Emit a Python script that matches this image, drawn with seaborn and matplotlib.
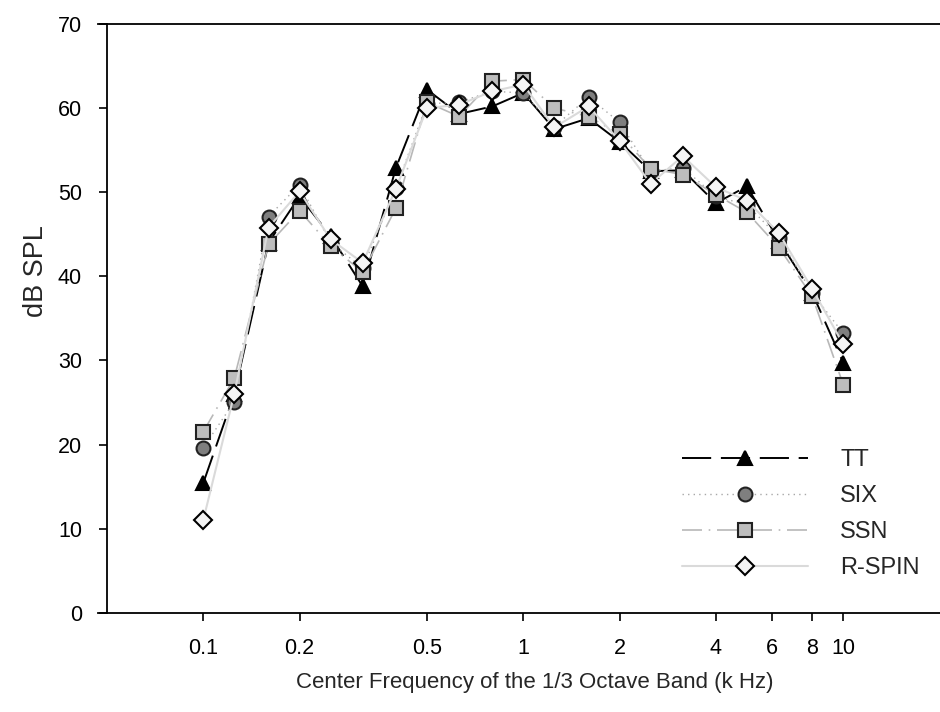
import numpy as np
import pandas as pd
import matplotlib
matplotlib.use("Agg")
import matplotlib.pyplot as plt
import matplotlib.ticker as mticker
import seaborn as sns

# 1/3 octave band centre frequencies (kHz)
freq = [0.1, 0.125, 0.16, 0.2, 0.25, 0.315, 0.4, 0.5, 0.63, 0.8, 1,
        1.25, 1.6, 2, 2.5, 3.15, 4, 5, 6.3, 8, 10]

# levels (dB SPL)
tt = [15.4, 26.0, 44.0, 49.5, 44.8, 38.8, 52.9, 62.2, 59.3, 60.2, 61.8,
      57.5, 58.8, 56.0, 52.5, 52.6, 48.7, 50.7, 44.2, 38.0, 29.7]
six = [19.6, 25.1, 47.1, 50.9, 44.0, 41.0, 50.5, 60.5, 60.7, 62.0, 61.8,
       57.8, 61.3, 58.3, 52.5, 52.9, 49.5, 48.5, 44.6, 38.0, 33.2]
ssn = [21.5, 27.9, 43.8, 47.8, 43.6, 40.5, 48.1, 60.7, 59.0, 63.2, 63.4,
       60.0, 59.0, 56.9, 52.8, 52.1, 49.7, 47.6, 43.4, 37.6, 27.1]
rspin = [11.0, 26.0, 45.8, 50.1, 44.4, 41.6, 50.4, 60.0, 60.4, 62.0, 62.8,
         57.7, 60.2, 56.1, 51.0, 54.3, 50.6, 49.0, 45.1, 38.5, 31.9]

xticks = [0.1, 0.2, 0.5, 1, 2, 4, 6, 8, 10]
xticklabels = ["0.1", "0.2", "0.5", "1", "2", "4", "6", "8", "10"]

sns.set_style("white")
plt.rcParams['font.family'] = ['Liberation Sans', 'DejaVu Sans']

fig = plt.figure(figsize=(9.4, 7.12), dpi=100)
ax = fig.add_axes([98 / 940, 1 - 612.7 / 712, 842 / 940, (612.7 - 24) / 712])

df = pd.DataFrame({"freq": freq, "TT": tt, "SIX": six, "SSN": ssn, "R-SPIN": rspin})

styles = {
    "TT": dict(color="black", linestyle=(0, (15, 5)), linewidth=1.4,
               marker="^", markersize=10, markerfacecolor="black", markeredgecolor="black"),
    "SIX": dict(color="#a8a8a8", linestyle=(0, (1, 3)), linewidth=1.0,
                marker="o", markersize=10, markerfacecolor="#7f7f7f", markeredgecolor="#222222"),
    "SSN": dict(color="#b8b8b8", linestyle=(0, (12, 4, 1, 4)), linewidth=1.2,
                marker="s", markersize=10, markerfacecolor="#bdbdbd", markeredgecolor="#222222"),
    "R-SPIN": dict(color="#dadada", linestyle="-", linewidth=1.5,
                   marker="D", markersize=9, markerfacecolor="#f4f4f4", markeredgecolor="black"),
}

for name, st in styles.items():
    sns.lineplot(data=df, x="freq", y=name, ax=ax, label=name, errorbar=None,
                 markeredgewidth=1.5, **st)

ax.set_xscale("log")
ax.set_xlim(0.0469, 20.05)
ax.set_ylim(0, 70)
ax.xaxis.set_major_locator(mticker.FixedLocator(xticks))
ax.xaxis.set_major_formatter(mticker.FixedFormatter(xticklabels))
ax.xaxis.set_minor_locator(mticker.NullLocator())
ax.set_yticks(range(0, 71, 10))

ax.spines['left'].set_position(('data', 0.05))
ax.spines['right'].set_visible(False)
for s in ['left', 'top', 'bottom']:
    ax.spines[s].set_color("black")
    ax.spines[s].set_linewidth(1.3)

ax.tick_params(axis='both', which='major', direction='out', length=6, width=1.2,
               labelsize=15.5, colors="black", bottom=True, left=True)
ax.tick_params(axis='x', pad=12)
ax.tick_params(axis='y', pad=12)

ax.set_xlabel("Center Frequency of the 1/3 Octave Band (k Hz)", fontsize=16)
ax.set_ylabel("dB SPL", fontsize=19.5)
ax.xaxis.set_label_coords(0.519, -0.1)
ax.yaxis.set_label_coords(-0.058, 0.58)

ax.legend(loc="upper left", bbox_to_anchor=(682 / 940, 1 - 449 / 712),
          bbox_transform=fig.transFigure, frameon=False, numpoints=1,
          handlelength=5.35, handletextpad=1.35, fontsize=17, labelspacing=0.6,
          borderpad=0, borderaxespad=0)

plt.savefig("out.png", dpi=100)
